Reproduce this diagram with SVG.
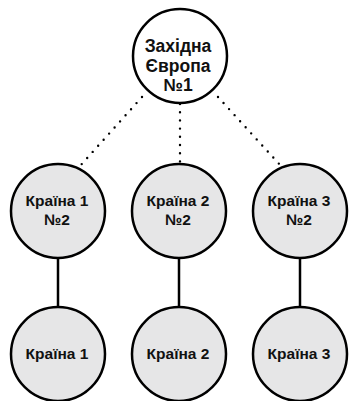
<svg xmlns="http://www.w3.org/2000/svg" width="349" height="401" viewBox="0 0 349 401">
<style>
.n{stroke:#000;stroke-width:2.5}
.g{fill:#e6e6e7}
.w{fill:#fff}
.t{font-family:"Liberation Sans",Arial,sans-serif;font-weight:bold;fill:#111;text-anchor:middle}
.dot{stroke:#000;stroke-width:2.4;stroke-linecap:round;stroke-dasharray:0 8.2;fill:none}
.ln{stroke:#000;stroke-width:2.5;fill:none}
</style>
<rect width="349" height="401" fill="#fff"/>
<g id="connectors">
<line class="dot" x1="142" y1="97" x2="80" y2="166"/>
<line class="dot" x1="180" y1="104" x2="180" y2="164"/>
<line class="dot" x1="218" y1="97" x2="281" y2="166"/>
<line class="ln" x1="58" y1="258" x2="58" y2="308"/>
<line class="ln" x1="179" y1="258" x2="179" y2="308"/>
<line class="ln" x1="300" y1="258" x2="300" y2="308"/>
</g>
<g id="root">
<circle class="n w" cx="180" cy="56" r="47"/>
<text class="t" font-size="17.5" x="178" y="52">Західна</text>
<text class="t" font-size="17.5" x="178" y="72">Європа</text>
<text class="t" font-size="17.5" x="178" y="91">№1</text>
</g>
<g id="m1">
<circle class="n g" cx="58" cy="211" r="47"/>
<text class="t" font-size="15.5" x="57" y="206">Країна 1</text>
<text class="t" font-size="15.5" x="57" y="225">№2</text>
</g>
<g id="m2">
<circle class="n g" cx="179" cy="211" r="47"/>
<text class="t" font-size="15.5" x="178" y="206">Країна 2</text>
<text class="t" font-size="15.5" x="178" y="225">№2</text>
</g>
<g id="m3">
<circle class="n g" cx="300" cy="211" r="47"/>
<text class="t" font-size="15.5" x="299" y="206">Країна 3</text>
<text class="t" font-size="15.5" x="299" y="225">№2</text>
</g>
<g id="b1">
<circle class="n g" cx="58" cy="354" r="47"/>
<text class="t" font-size="15.5" x="57" y="359">Країна 1</text>
</g>
<g id="b2">
<circle class="n g" cx="179" cy="354" r="47"/>
<text class="t" font-size="15.5" x="178" y="359">Країна 2</text>
</g>
<g id="b3">
<circle class="n g" cx="300" cy="354" r="47"/>
<text class="t" font-size="15.5" x="299" y="359">Країна 3</text>
</g>
</svg>
